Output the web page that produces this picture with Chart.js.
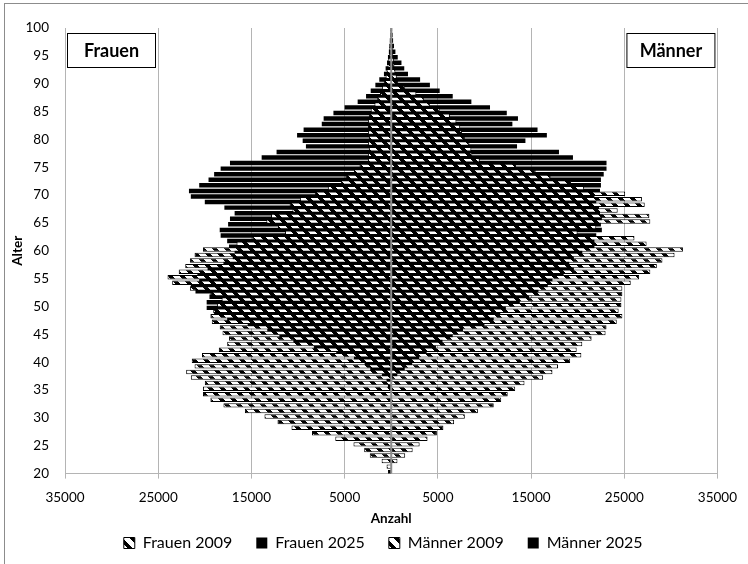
<!DOCTYPE html>
<html>
<head>
<meta charset="utf-8">
<script src="https://cdn.jsdelivr.net/npm/chart.js@4/dist/chart.umd.min.js"></script>
<style>
  html, body { margin: 0; padding: 0; background: #fff; }
</style>
</head>
<body>
<canvas id="pyramid" width="748" height="564"></canvas>
<script>
// Alter 20..100
const ages = [20,21,22,23,24,25,26,27,28,29,30,31,32,33,34,35,36,37,38,39,40,
  41,42,43,44,45,46,47,48,49,50,51,52,53,54,55,56,57,58,59,60,
  61,62,63,64,65,66,67,68,69,70,71,72,73,74,75,76,77,78,79,80,
  81,82,83,84,85,86,87,88,89,90,91,92,93,94,95,96,97,98,99,100];

const frauen2009 = [350,500,1030,2300,2900,4050,6000,8500,10700,12200,13600,
  15700,18000,19400,20200,20200,20000,21500,22000,21100,21400,
  20300,18500,17600,17400,18100,18400,19250,19400,19100,18700,
  18200,19400,21600,23500,24000,22800,22100,21600,21100,20200,
  16600,14900,11400,12150,13400,12900,10600,10900,9800,8200,
  6800,5400,4900,4000,3400,2500,2500,2400,2500,2400,
  2500,2500,2500,2400,2200,1800,1500,1200,1000,800,
  600,500,400,300,250,200,150,100,80,50];

const frauen2025 = [0,0,0,0,0,0,0,0,0,0,0,
  0,0,0,0,0,350,500,1000,2250,2850,
  4000,5900,8300,10500,12000,13300,15400,17600,19000,19800,
  19800,19500,21000,21500,20600,20800,19700,18000,17000,16800,
  17400,17600,18300,18400,17500,17300,16800,17900,20000,21500,
  21700,20600,19600,19000,18300,17300,13900,12300,9150,9500,
  10100,9400,7450,7250,6200,5000,3600,2700,2200,1700,
  1280,780,600,450,350,250,200,150,100,60];

const maenner2009 = [50,100,670,1500,2300,3050,3900,4900,5600,6750,7900,
  9300,11000,11800,12500,13300,14300,16300,17300,17900,19200,
  20400,19900,20500,21500,23000,23100,24200,24800,24400,24700,
  24700,24800,24800,25700,26600,27800,28500,29100,30400,31300,
  27400,26100,20000,22000,27800,27700,24300,27200,26900,25100,
  20700,19300,17100,15500,13400,9500,8700,8600,8400,7900,
  7600,7400,7000,6300,5200,4150,3500,2700,1500,750,
  600,450,350,280,220,170,120,90,60,40];

const maenner2025 = [0,0,0,0,0,0,0,0,0,0,0,
  0,0,0,0,0,50,100,650,1450,2250,
  3000,3800,4800,5500,6600,7700,10000,11000,11700,12300,
  13800,14800,15800,16800,17300,18500,19600,19100,19600,20500,
  21800,21800,22000,22600,22500,22600,22400,22300,22000,21800,
  22400,22500,22500,22800,23100,23100,19500,18000,13500,14400,
  16700,15700,13000,13600,12400,10600,8600,6600,5200,4150,
  3100,1800,1400,1100,700,450,300,200,150,100];

const xTicks = [-35000, -25000, -15000, -5000, 5000, 15000, 25000, 35000];

Chart.defaults.font.family = 'Lato, "Open Sans", sans-serif';
Chart.defaults.color = '#000';

const canvas = document.getElementById('pyramid');
const ctx = canvas.getContext('2d');

// Muster "breite Diagonale abwärts"
function hatch() {
  const c = document.createElement('canvas');
  c.width = 12; c.height = 12;
  const g = c.getContext('2d');
  g.fillStyle = '#fff';
  g.fillRect(0, 0, 12, 12);
  g.fillStyle = '#000';
  for (let y = 0; y < 12; y++) {
    for (let x = 0; x < 12; x++) {
      if ((x - y + 24) % 12 < 5) g.fillRect(x, y, 1, 1);
    }
  }
  return ctx.createPattern(c, 'repeat');
}
const pat = hatch();

const legendPad = '\u2002\u2002';

const extras = {
  id: 'extras',
  beforeDraw(chart) {
    const c = chart.ctx;
    c.save();
    c.fillStyle = '#fff';
    c.fillRect(0, 0, chart.width, chart.height);
    c.strokeStyle = '#8c8c8c';
    c.lineWidth = 1;
    c.strokeRect(4.5, 3.5, chart.width, chart.height);
    c.restore();
  },
  afterDatasetsDraw(chart) {
    const c = chart.ctx;
    const a = chart.chartArea;
    const x0 = chart.scales.x.getPixelForValue(0);
    c.save();
    c.strokeStyle = '#8c8c8c';
    c.lineWidth = 2;
    c.beginPath();
    c.moveTo(x0, a.top);
    c.lineTo(x0, a.bottom);
    c.stroke();

    // Beschriftungsfelder
    const boxes = [
      { text: 'Frauen', x: a.left + 2 },
      { text: 'Männer', x: a.right - 91 }
    ];
    c.font = 'bold 18px Lato, "Open Sans", sans-serif';
    c.textAlign = 'center';
    c.textBaseline = 'middle';
    boxes.forEach(b => {
      c.fillStyle = '#fff';
      c.fillRect(b.x + 0.5, a.top + 5.5, 88, 34);
      c.strokeStyle = '#000';
      c.lineWidth = 1;
      c.strokeRect(b.x + 0.5, a.top + 5.5, 88, 34);
      c.fillStyle = '#000';
      c.fillText(b.text, b.x + 44.5, a.top + 23);
    });
    c.restore();
  }
};

new Chart(canvas, {
  type: 'bar',
  data: {
    labels: ages,
    datasets: [
      { label: 'Frauen 2009', data: frauen2009.map(v => -v), stack: 'j2009',
        backgroundColor: pat, borderColor: '#000', borderWidth: 1 },
      { label: 'Frauen 2025', data: frauen2025.map(v => -v), stack: 'j2025',
        backgroundColor: '#000', borderColor: '#000', borderWidth: 0 },
      { label: 'Männer 2009', data: maenner2009, stack: 'j2009',
        backgroundColor: pat, borderColor: '#000', borderWidth: 1 },
      { label: 'Männer 2025', data: maenner2025, stack: 'j2025',
        backgroundColor: '#000', borderColor: '#000', borderWidth: 0 }
    ]
  },
  options: {
    indexAxis: 'y',
    responsive: false,
    animation: false,
    categoryPercentage: 1,
    barPercentage: 1.6,
    layout: { padding: { left: 6, right: 27, top: 28, bottom: 3 } },
    scales: {
      x: {
        stacked: true,
        min: -35000,
        max: 35000,
        afterBuildTicks(s) { s.ticks = xTicks.map(v => ({ value: v })); },
        ticks: {
          callback: v => String(Math.abs(v)),
          font: { size: 13.5 },
          padding: 11,
          maxRotation: 0
        },
        grid: { color: '#b4b4b4', lineWidth: 1, tickLength: 5 },
        border: { color: '#b4b4b4' },
        title: {
          display: true, text: 'Anzahl',
          font: { size: 13.5, weight: 'bold' },
          padding: { top: -6, bottom: 0 }
        }
      },
      y: {
        type: 'category',
        reverse: true,
        offset: false,
        afterFit(s) { s.width = 59; },
        grid: { display: false, drawTicks: false },
        border: { display: false },
        ticks: {
          autoSkip: false,
          padding: 16,
          font: { size: 13.5 },
          callback(v, i) { return ages[i] % 5 === 0 ? String(ages[i]) : ''; }
        },
        title: {
          display: true, text: 'Alter',
          font: { size: 13.5, weight: 'bold' },
          padding: { top: 4, bottom: 0 }
        }
      }
    },
    plugins: {
      tooltip: { enabled: false },
      legend: {
        position: 'bottom',
        fullSize: false,
        labels: {
          boxWidth: 11,
          boxHeight: 11,
          padding: 8,
          font: { size: 16 },
          generateLabels(chart) {
            const items = Chart.defaults.plugins.legend.labels.generateLabels(chart);
            items.forEach(it => { it.text = it.text + legendPad; });
            return items;
          }
        }
      }
    }
  },
  plugins: [extras]
});
</script>
</body>
</html>
